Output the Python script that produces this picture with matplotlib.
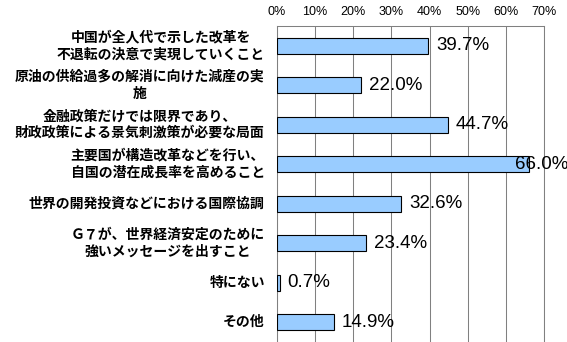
import numpy as np
import matplotlib.pyplot as plt

plt.rcParams['font.family'] = ['Noto Sans CJK JP', 'DejaVu Sans']

categories = [
    "中国が全人代で示した改革を\n不退転の決意で実現していくこと",
    "原油の供給過多の解消に向けた減産の実\n施",
    "金融政策だけでは限界であり、\n財政政策による景気刺激策が必要な局面",
    "主要国が構造改革などを行い、\n自国の潜在成長率を高めること",
    "世界の開発投資などにおける国際協調",
    "Ｇ７が、世界経済安定のために\n強いメッセージを出すこと",
    "特にない",
    "その他",
]
values = [39.7, 22.0, 44.7, 66.0, 32.6, 23.4, 0.7, 14.9]
xticks = [0, 10, 20, 30, 40, 50, 60, 70]

fig = plt.figure(figsize=(5.67, 3.42), dpi=100)
ax = fig.add_axes([0.4885, 0.0, 0.471, 0.924])

y = np.arange(len(categories))
bars = ax.barh(y, values, height=0.41, color='#99CCFF', edgecolor='black',
               linewidth=0.8, zorder=3)

# value labels sit right of the bar; a label that would run off the
# figure is pulled back so it ends at the right edge
label_room = 76.4
for rect, v in zip(bars, values):
    lx, ha = rect.get_width() + 2.0, 'left'
    if lx + 15.5 > label_room:
        lx, ha = label_room, 'right'
    ax.text(lx, rect.get_y() + rect.get_height() / 2, f"{v:.1f}%",
            va='center', ha=ha, fontsize=13.5,
            family=['Liberation Sans', 'DejaVu Sans'], zorder=4, clip_on=False)

ax.set_xlim(0, 70)
ax.set_ylim(len(categories) - 0.5, -0.5)
ax.set_xticks(xticks)
ax.set_xticklabels([f"{t}%" for t in xticks], family=['Liberation Sans', 'DejaVu Sans'],
                   fontsize=9)
ax.xaxis.tick_top()
ax.tick_params(axis='x', length=0, pad=6)
ax.set_yticks([])

for yi, label in zip(y, categories):
    ax.text(-3.2, yi, label, ha='right', va='center', multialignment='center',
            fontsize=10, fontweight='bold', linespacing=1.25, clip_on=False)

ax.grid(axis='x', color='#808080', linewidth=0.75, zorder=0)
for side in ['top', 'left', 'right']:
    ax.spines[side].set_color('#808080')
    ax.spines[side].set_linewidth(0.75)
ax.spines['bottom'].set_visible(False)

fig.savefig('out.png', dpi=100)
